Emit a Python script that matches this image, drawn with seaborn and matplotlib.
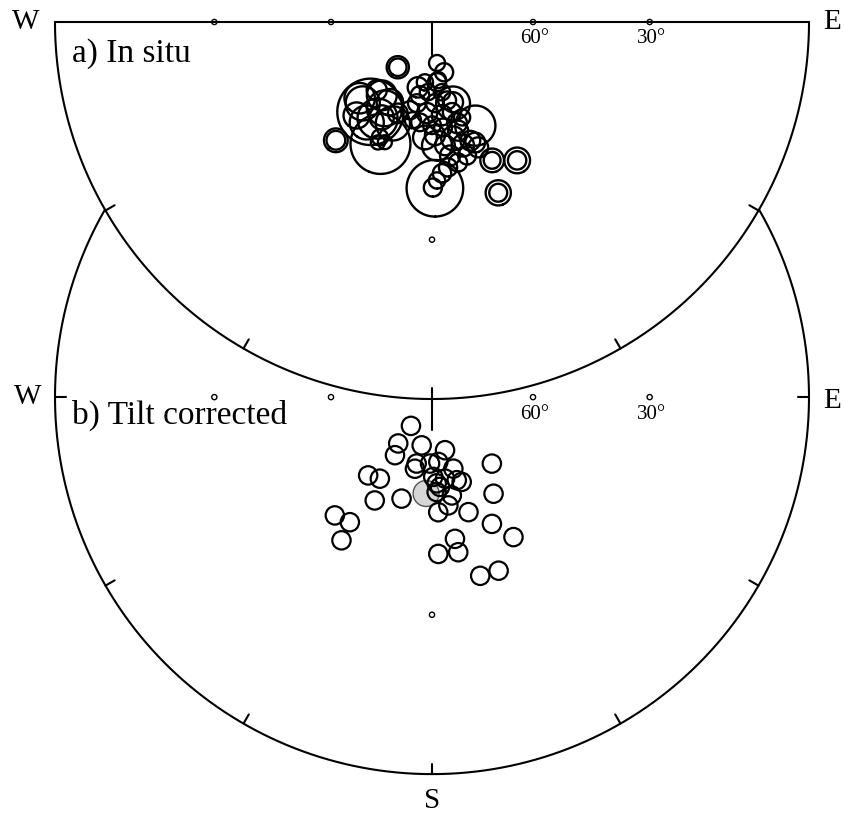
import numpy as np
import pandas as pd
import seaborn as sns
import matplotlib.pyplot as plt

# a) In situ site means: declination, inclination, alpha95 (deg)
insitu_dec = [217.1, 217.1, 173.0, 166.5, 174.1, 219.1, 219.1, 214.4, 202.9,
              223.5, 214.4, 207.7, 213.0, 201.1, 218.9, 207.8, 200.5, 204.3,
              201.4, 204.2, 219.0, 192.2, 189.3, 190.5, 183.3, 177.9, 169.1,
              165.3, 167.5, 173.9, 183.1, 186.8, 180.0, 174.0, 166.1, 162.5,
              194.0, 191.0, 186.7, 175.2, 171.9, 157.3, 169.7, 165.9, 160.3,
              177.7, 174.0, 172.3, 165.3, 169.5, 173.7, 176.2, 178.2, 179.7,
              159.8, 183.5, 178.5, 179.0, 156.5, 156.5, 148.4, 148.4, 158.8,
              158.8, 165.5, 220.4, 208.7, 209.4, 166.5, 162.1]
insitu_inc = [72.9, 72.9, 77.5, 74.4, 72.4, 46.0, 46.0, 58.0, 51.5,
              58.9, 63.5, 63.0, 54.8, 57.9, 54.7, 58.1, 61.0, 52.9,
              52.2, 51.4, 63.8, 69.9, 67.7, 65.3, 68.9, 65.7, 66.1,
              65.2, 62.5, 62.1, 62.8, 60.0, 59.4, 58.6, 59.1, 60.3,
              62.9, 60.3, 71.7, 71.8, 68.7, 56.9, 55.2, 52.7, 52.5,
              53.7, 53.6, 50.7, 49.8, 48.5, 47.6, 46.2, 44.4, 42.6,
              51.0, 55.9, 56.6, 42.6, 46.4, 46.4, 43.4, 43.4, 38.2,
              38.2, 64.9, 58.4, 60.8, 57.3, 57.0, 53.4]
insitu_a95 = [3.3, 2.6, 2.4, 2.7, 2.4, 3.1, 2.45, 9.3, 8.1,
              4.3, 4.3, 3.8, 4.7, 4.8, 3.6, 3.4, 2.8, 2.2,
              1.9, 1.9, 2.9, 3.0, 2.7, 2.6, 2.4, 2.6, 2.6,
              2.9, 2.6, 2.9, 2.9, 2.5, 2.5, 2.5, 2.8, 2.3,
              2.6, 2.3, 2.4, 2.7, 2.4, 5.6, 3.3, 3.0, 2.7,
              4.1, 2.7, 2.7, 2.4, 2.4, 2.4, 2.4, 2.1, 2.3,
              2.7, 3.3, 2.8, 7.2, 3.1, 2.2, 3.3, 2.35, 3.1,
              2.2, 4.9, 4.8, 5.1, 5.6, 2.8, 2.7]

# b) Tilt corrected site means
tilt_dec = [216.2, 216.1, 212.5, 192.1, 166.2, 193.0, 193.4, 181.7, 174.4,
            163.4, 179.1, 170.9, 163.4, 160.7, 174.9, 177.2, 219.2, 212.6,
            209.0, 196.7, 138.0, 147.5, 154.7, 162.4, 171.4, 176.9, 219.4,
            213.3, 212.3, 170.8, 177.7, 170.4, 149.8, 164.9, 159.0, 176.9,
            168.6]
tilt_inc = [79.2, 72.7, 69.3, 75.1, 73.5, 69.5, 67.9, 70.0, 70.4,
            67.6, 66.1, 65.3, 64.1, 63.2, 63.1, 61.7, 60.0, 61.2,
            55.2, 58.6, 63.3, 56.2, 49.2, 54.5, 57.6, 56.0, 45.8,
            46.7, 41.6, 48.3, 44.8, 44.7, 43.5, 37.7, 37.5, 64.2,
            60.2]

# overall tilt-corrected mean
mean_dec, mean_inc, mean_a95 = 183.5, 61.3, 3.7

ref_inc = [60, 30]
ref_labels = ["60°", "30°"]
tick_az = [120, 150, 180, 210, 240]

OFF_B = -0.995  # vertical offset of net b)


def project(dec, inc):
    d = np.radians(np.asarray(dec, float))
    i = np.radians(np.asarray(inc, float))
    r = np.tan(np.pi / 4 - i / 2)
    return r * np.sin(d), r * np.cos(d)


def cone(dec, inc, a95, n=120):
    d, i, a = np.radians([dec, inc, a95])
    m = np.array([np.cos(i) * np.cos(d), np.cos(i) * np.sin(d), np.sin(i)])
    u = np.array([np.sin(i) * np.cos(d), np.sin(i) * np.sin(d), -np.cos(i)])
    w = np.cross(m, u)
    t = np.linspace(0, 2 * np.pi, n)
    v = np.cos(a) * m[:, None] + np.sin(a) * (np.cos(t) * u[:, None] + np.sin(t) * w[:, None])
    return v[1] / (1 + v[2]), v[0] / (1 + v[2])


sns.set_theme(style="white")
plt.rcParams["font.family"] = ["Liberation Serif", "DejaVu Serif"]
plt.rcParams["text.color"] = "black"

fig = plt.figure(figsize=(8.44, 8.18), dpi=100)
ax = fig.add_axes([0, 0, 1, 1])
ax.set_xlim(-432 / 377, 412 / 377)
ax.set_ylim(-796 / 377, 22 / 377)
ax.set_aspect("equal")
ax.axis("off")

lw = 1.5
tl = 0.028

# net b): only the part not hidden by net a)
t0 = np.arcsin(abs(OFF_B) / 2)
t = np.linspace(np.pi - t0, 2 * np.pi + t0, 721)
ax.plot(np.cos(t), np.sin(t) + OFF_B, color="black", lw=lw, zorder=1)
for az in tick_az + [90, 270]:
    s, c = np.sin(np.radians(az)), np.cos(np.radians(az))
    ax.plot([s, s * (1 - tl)], [c + OFF_B, c * (1 - tl) + OFF_B], color="black", lw=lw, zorder=1)
ax.plot([0, 0], [OFF_B, OFF_B - 0.088], color="black", lw=lw, zorder=1)

# net a) lower half, white filled on top
th = np.linspace(np.pi, 2 * np.pi, 361)
ax.fill(np.cos(th), np.sin(th), facecolor="white", edgecolor="black", lw=lw, zorder=2)
for az in tick_az:
    s, c = np.sin(np.radians(az)), np.cos(np.radians(az))
    ax.plot([s, s * (1 - tl)], [c, c * (1 - tl)], color="black", lw=lw, zorder=3)
ax.plot([0, 0], [0, -0.088], color="black", lw=lw, zorder=3)

# reference inclination markers
for y0 in [0, OFF_B]:
    rx, _ = project([90] * 2, ref_inc)
    ref = pd.DataFrame({
        "x": np.concatenate([rx, -rx, [0, 0]]),
        "y": np.concatenate([[y0] * 4, [y0 - rx[0], y0 - rx[1]]]),
    })
    sns.scatterplot(data=ref, x="x", y="y", ax=ax, marker="o", s=14,
                    facecolor="none", edgecolor="black", linewidth=1.0, zorder=4)
    for xx, lab in zip(rx, ref_labels):
        ax.text(xx + 0.005, y0 - 0.045, lab, fontsize=15, ha="center", va="center", zorder=6)

# a) cones
for d, i, a in zip(insitu_dec, insitu_inc, insitu_a95):
    cx, cy = cone(d, i, a)
    ax.plot(cx, cy, color="black", lw=1.7, zorder=5)

# b) mean (grey) and site means
gx, gy = cone(mean_dec, mean_inc, mean_a95)
ax.fill(gx, gy + OFF_B, facecolor="#d6d6d6", edgecolor="#555555", lw=1.0, zorder=4)
bx, by = project(tilt_dec, tilt_inc)
tilt = pd.DataFrame({"x": bx, "y": by + OFF_B})
sns.scatterplot(data=tilt, x="x", y="y", ax=ax, marker="o", s=175,
                facecolor="none", edgecolor="black", linewidth=1.6, zorder=5)

# labels
ax.text(-1.077, 0.0, "W", fontsize=21, ha="center", va="center")
ax.text(1.061, 0.0, "E", fontsize=21, ha="center", va="center")
ax.text(-1.072, OFF_B, "W", fontsize=21, ha="center", va="center")
ax.text(1.061, OFF_B - 0.01, "E", fontsize=21, ha="center", va="center")
ax.text(0.0, -2.066, "S", fontsize=21, ha="center", va="center")
ax.text(-0.955, -0.106, "a) In situ", fontsize=24, ha="left", va="baseline", zorder=6)
ax.text(-0.955, -1.066, "b) Tilt corrected", fontsize=24, ha="left", va="baseline", zorder=6)
ax.set_xlabel("")
ax.set_ylabel("")

fig.savefig("out.png", dpi=100)
